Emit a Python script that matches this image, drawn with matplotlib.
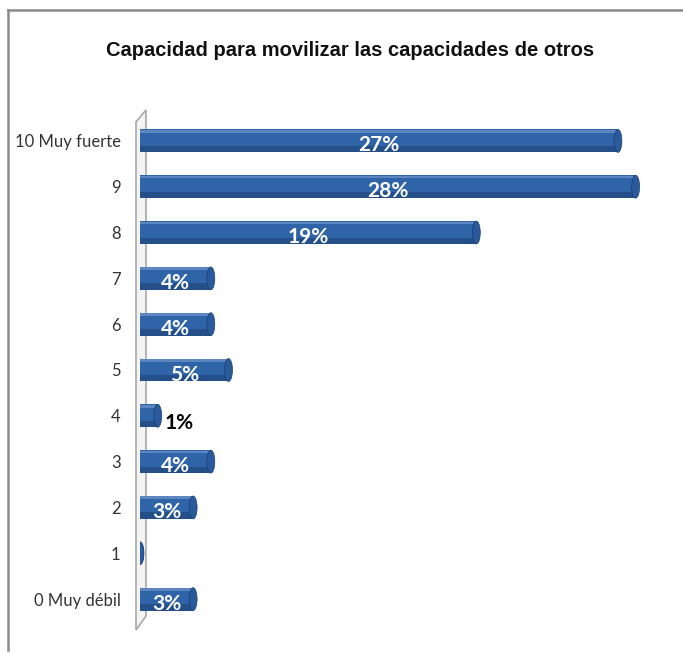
import matplotlib
matplotlib.use('Agg')
import matplotlib.pyplot as plt
from matplotlib.patches import Ellipse, Polygon
from matplotlib.lines import Line2D

TITLE = 'Capacidad para movilizar las capacidades de otros'
categories = ['0 Muy débil', '1', '2', '3', '4', '5', '6', '7', '8', '9', '10 Muy fuerte']
values = [3, 0, 3, 4, 1, 5, 4, 4, 19, 28, 27]
labels = ['3%', '', '3%', '4%', '1%', '5%', '4%', '4%', '19%', '28%', '27%']

BLUE = '#2f64a8'
DARK = '#1d3f6e'
FONT = ['Lato', 'DejaVu Sans']
TFONT = ['Liberation Sans', 'DejaVu Sans']

W, H = 683, 653
fig = plt.figure(figsize=(W / 100, H / 100), dpi=100)
ax = fig.add_axes([140 / W, 31 / H, 531 / W, 504 / H])

ypos = list(range(len(values)))
bar_h = 0.5

# back wall of the 3d chart
wall = [(136, 122), (146, 110), (146, 616), (136, 630)]
fig.add_artist(Polygon([(x / W, 1 - y / H) for x, y in wall], closed=True,
                       facecolor='#f4f4f4', edgecolor='#a8a8a8', lw=1.2,
                       transform=fig.transFigure, zorder=0))

# bars with a darker lower edge and rounded caps
ax.barh(ypos, values, height=bar_h, color=BLUE, zorder=3)
ax.barh([y - bar_h * 0.36 for y in ypos], values, height=bar_h * 0.28,
        color=DARK, alpha=0.55, lw=0, zorder=4)
ax.barh([y + bar_h * 0.42 for y in ypos], values, height=bar_h * 0.12,
        color='#5b86c0', lw=0, zorder=4)
for y, v in zip(ypos, values):
    ax.add_patch(Ellipse((v, y), 0.45, bar_h, facecolor='#285a9c',
                         edgecolor='#1d3f6e', lw=0.5, zorder=5))
    ax.add_patch(Ellipse((0, y), 0.45, bar_h, facecolor=BLUE,
                         edgecolor='none', zorder=2))

# value labels
for y, v, lab in zip(ypos, values, labels):
    if not lab:
        continue
    if v >= 2:
        ax.text(v / 2, y - 0.1, lab, ha='center', va='center', color='white',
                fontsize=15, fontweight='bold', family=FONT, zorder=6)
    else:
        ax.text(v + 0.4, y - 0.15, lab, ha='left', va='center', color='black',
                fontsize=15, fontweight='bold', family=FONT, zorder=6)

ax.set_xlim(0, 30)
ax.set_ylim(-0.5, len(values) - 0.5)
ax.set_yticks(ypos)
ax.set_yticklabels(categories, family=FONT, fontsize=12, color='#333333')
ax.tick_params(axis='y', length=0, pad=14)
ax.set_xticks([])
for s in ax.spines.values():
    s.set_visible(False)
ax.patch.set_alpha(0)

fig.text(350 / W, 1 - 50 / H, TITLE, ha='center', va='center',
         fontsize=14.5, fontweight='bold', family=TFONT, color='#111111')

# outer frame (left and top only)
fig.add_artist(Line2D([8 / W, 8 / W], [1 - 650 / H, 1 - 10 / H],
                      color='#8a8a8a', lw=1.8, transform=fig.transFigure))
fig.add_artist(Line2D([8 / W, 1], [1 - 10 / H, 1 - 10 / H],
                      color='#8a8a8a', lw=1.8, transform=fig.transFigure))

fig.savefig('out.png', dpi=100)
